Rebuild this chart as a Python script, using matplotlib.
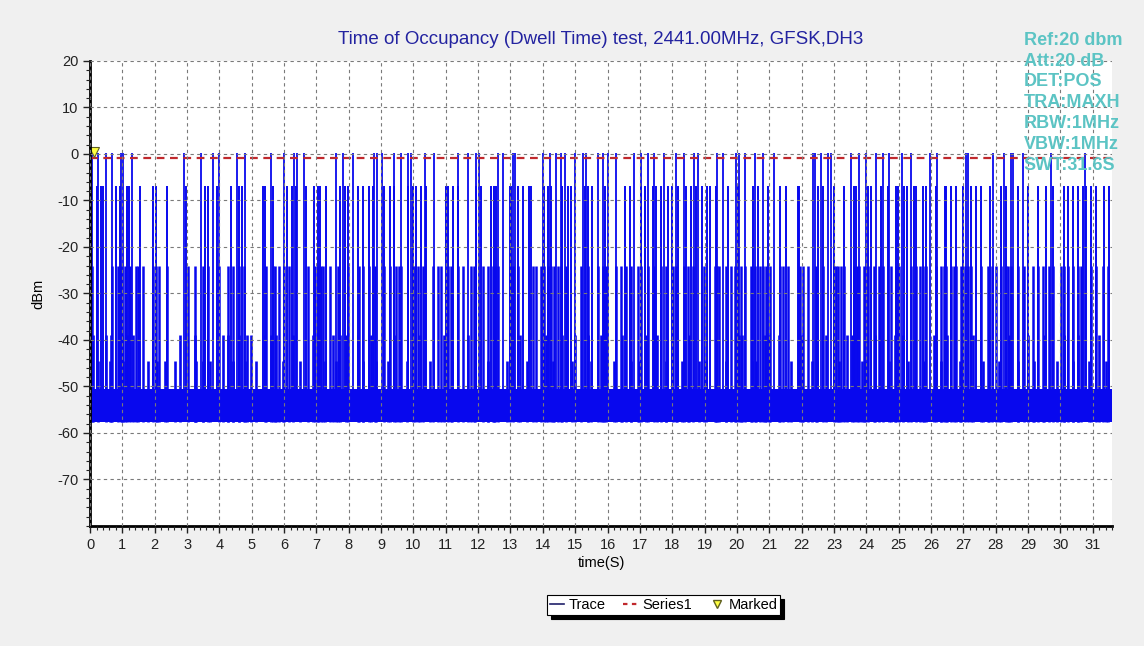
import matplotlib
matplotlib.use("Agg")
import matplotlib.pyplot as plt
from matplotlib.lines import Line2D

plt.rcParams['font.family'] = ['Liberation Sans', 'DejaVu Sans']
plt.rcParams['axes.unicode_minus'] = False

# --- data ---
title = "Time of Occupancy (Dwell Time) test, 2441.00MHz, GFSK,DH3"
info_lines = ["Ref:20 dbm", "Att:20 dB", "DET:POS", "TRA:MAXH",
              "RBW:1MHz", "VBW:1MHz", "SWT:31.6S"]
sweep_time = 31.6
x_ticks = list(range(0, 32))
y_ticks = [20, 10, 0, -10, -20, -30, -40, -50, -60, -70]

# bursts that land on the channel (~0 dBm)
hit_t = [0.06, 0.25, 0.50, 0.68, 0.97, 1.02, 1.31, 2.92, 3.44, 3.80, 3.98, 4.55,
         4.79, 5.58, 5.99, 6.32, 6.41, 6.62, 7.61, 7.82, 8.13, 8.78, 8.88, 9.02,
         9.41, 9.60, 9.83, 9.93, 10.36, 10.63, 11.37, 11.68, 11.93, 12.04, 12.62,
         12.76, 13.08, 13.13, 14.00, 14.21, 14.41, 14.57, 14.67, 14.98, 15.24,
         15.34, 15.70, 15.85, 16.01, 16.27, 16.83, 17.04, 17.24, 17.45, 17.76,
         18.12, 18.37, 18.66, 18.79, 19.39, 19.57, 19.98, 20.08, 20.24, 20.55,
         20.80, 21.16, 22.35, 22.42, 22.60, 22.81, 22.91, 23.53, 23.79, 23.99,
         24.30, 24.51, 24.71, 25.09, 25.38, 25.96, 26.19, 27.09, 27.14, 27.91,
         28.27, 28.48, 28.53, 28.84, 29.72, 30.77]
hit_db = 0.3

# bursts one channel away (~-7 dBm)
adj_t = [0.20, 0.33, 0.40, 0.81, 0.92, 1.15, 1.22, 1.53, 1.94, 2.05, 2.38, 2.97,
         3.54, 3.66, 3.93, 4.36, 4.62, 4.69, 5.34, 5.41, 5.65, 6.08, 6.23, 6.38,
         6.69, 6.94, 7.05, 7.10, 7.30, 7.72, 7.87, 7.97, 8.28, 8.44, 8.64, 8.74,
         9.10, 9.26, 9.41, 9.83, 9.98, 10.08, 10.24, 10.39, 11.01, 11.06, 11.21,
         11.37, 11.93, 12.09, 12.40, 12.50, 12.55, 12.97, 13.02, 13.23, 13.38,
         13.56, 13.64, 14.05, 14.16, 14.26, 14.60, 14.77, 14.88, 15.29, 15.39,
         15.52, 15.91, 16.54, 16.68, 17.04, 17.16, 17.40, 17.50, 17.65, 17.86,
         17.98, 18.17, 18.43, 18.58, 18.73, 18.93, 19.09, 19.18, 19.36, 19.72,
         20.03, 20.49, 20.65, 20.96, 21.32, 21.52, 21.88, 21.93, 22.50, 22.65,
         23.01, 23.32, 23.63, 23.68, 24.04, 24.15, 24.45, 24.66, 24.92, 24.97,
         25.17, 25.26, 25.48, 25.55, 25.75, 25.85, 26.16, 26.42, 26.47, 26.63,
         26.78, 26.99, 27.24, 27.40, 27.55, 27.81, 28.17, 28.32, 28.68, 28.99,
         29.30, 29.56, 29.76, 30.12, 30.23, 30.38, 30.54, 30.69, 30.79, 30.95,
         31.10, 31.36, 31.51]
adj_db = -6.9

# bursts two channels away (~-24 dBm)
far_t = [0.06, 0.68, 0.88, 0.97, 1.07, 1.25, 1.43, 1.48, 1.64, 1.94, 2.05, 2.12,
         2.39, 3.02, 3.25, 3.49, 3.66, 4.00, 4.26, 4.43, 4.62, 4.77, 5.44, 5.65,
         5.72, 5.85, 5.99, 6.16, 6.74, 6.96, 7.05, 7.13, 7.20, 7.41, 7.66, 7.97,
         8.33, 8.44, 8.64, 8.80, 9.10, 9.26, 9.46, 9.54, 9.62, 9.98, 10.05, 10.13,
         10.29, 10.60, 10.75, 10.85, 11.06, 11.16, 11.37, 11.52, 11.78, 11.88,
         12.14, 12.29, 12.45, 12.52, 12.60, 12.97, 13.08, 13.23, 13.71, 13.80,
         13.95, 14.05, 14.16, 14.26, 14.36, 14.46, 14.57, 14.72, 15.19, 15.39,
         15.70, 15.85, 15.96, 16.27, 16.42, 16.57, 16.73, 16.93, 17.04, 17.24,
         17.45, 17.65, 17.81, 18.01, 18.12, 18.37, 18.48, 18.63, 18.99, 19.31,
         19.39, 19.46, 19.67, 19.82, 19.93, 20.13, 20.24, 20.44, 20.55, 20.70,
         20.80, 20.91, 21.01, 21.32, 21.42, 21.57, 21.96, 22.04, 22.19, 22.45,
         22.65, 22.99, 23.07, 23.14, 23.22, 23.32, 23.63, 23.71, 23.79, 23.94,
         24.04, 24.25, 24.40, 24.51, 24.76, 24.92, 25.02, 25.38, 25.54, 25.65,
         25.75, 25.85, 26.16, 26.32, 26.40, 26.47, 26.63, 26.71, 26.78, 26.93,
         27.04, 27.14, 27.24, 27.55, 27.76, 27.88, 28.01, 28.17, 28.32, 28.39,
         28.48, 28.68, 28.89, 29.15, 29.30, 29.46, 29.66, 29.76, 30.02, 30.12,
         30.25, 30.38, 30.54, 30.64, 30.95, 31.10, 31.31, 31.46]
far_db = -24.0

# smaller leakage spikes (~-39 dBm and ~-44 dBm)
leak_t = [0.08, 0.49, 0.65, 0.98, 1.13, 1.34, 2.78, 3.24, 4.11, 4.27, 4.61, 4.84,
          4.99, 5.40, 5.61, 5.76, 6.28, 6.89, 7.05, 7.51, 7.72, 7.92, 8.28, 8.69,
          9.40, 10.20, 10.95, 11.70, 12.50, 13.30, 14.10, 14.60, 15.00, 15.40,
          15.79, 15.90, 16.46, 17.18, 17.54, 18.52, 19.34, 19.96, 20.06, 20.16,
          20.88, 20.99, 21.30, 22.02, 22.74, 23.41, 23.56, 24.28, 24.90,
          25.15, 26.10, 26.50, 27.30, 27.80, 28.40, 29.00, 29.50, 30.10, 30.55,
          31.20]
leak_db = -39.0
leak2_t = [0.26, 0.62, 1.03, 1.80, 2.06, 2.31, 2.62, 3.29, 3.50, 3.70, 4.42, 4.78,
           5.14, 5.97, 6.48, 7.25, 7.61, 8.44, 8.85, 9.20, 9.80, 10.50, 11.20,
           11.90, 12.30, 12.90, 13.50, 14.30, 14.90, 15.50, 16.20, 16.72, 16.98,
           17.80, 18.16, 18.31, 18.83, 19.03, 19.65, 20.47, 20.58, 21.66, 22.33,
           22.48, 23.15, 23.87, 23.97, 24.69, 25.30, 25.80, 26.30, 26.90, 27.60,
           28.10, 28.70, 29.20, 29.90, 30.40, 30.90, 31.40]
leak2_db = -44.5

# noise floor band
floor_lo = -57.7
floor_hi = -50.5
floor_span = [0.0, sweep_time]

series1_db = -0.8
marked_t = [0.12]
marked_db = [0.4]

# --- figure ---
fig = plt.figure(figsize=(11.44, 6.46), dpi=100, facecolor='#f0f0f0')
ax = fig.add_axes([0.0787, 0.1858, 0.8934, 0.7198])
ax.set_facecolor('white')

trace_c = '#0808ee'
ax.fill_between(floor_span, floor_lo, floor_hi, color=trace_c, lw=0)
ax.vlines(leak2_t, floor_lo, leak2_db, color=trace_c, lw=1.9)
ax.vlines(leak_t, floor_lo, leak_db, color=trace_c, lw=1.9)
ax.vlines(far_t, floor_lo, far_db, color=trace_c, lw=1.8)
ax.vlines(adj_t, floor_lo, adj_db, color=trace_c, lw=1.4)
ax.vlines(hit_t, floor_lo, hit_db, color=trace_c, lw=1.3)

ax.axhline(series1_db, color='#c0282c', lw=1.6, ls=(0, (3.5, 2.5)))
ax.plot(marked_t, marked_db, 'v', ms=7, mfc='#ffff40', mec='#606020', mew=0.8,
        clip_on=False)

ax.set_xlim(0, sweep_time)
ax.set_ylim(-80, 20)
ax.set_xticks(x_ticks)
ax.set_yticks(y_ticks)
ax.set_xticks([i / 5 for i in range(0, 159)], minor=True)
ax.set_yticks(list(range(-80, 21, 2)), minor=True)
ax.tick_params(labelsize=10.5, colors='#222222', length=5, width=1)
ax.tick_params(which='minor', length=3, width=0.8, colors='#222222')
ax.grid(True, color='#7a7a7a', ls=(0, (3, 3)), lw=0.8)
ax.set_axisbelow(False)

for s in ['top', 'right']:
    ax.spines[s].set_visible(False)
for s in ['left', 'bottom']:
    ax.spines[s].set_linewidth(2.0)
    ax.spines[s].set_color('black')

ax.set_title(title, color='#2323a0', fontsize=13.5, pad=12)
ax.set_xlabel('time(S)', fontsize=10.5, labelpad=3)
ax.set_ylabel('dBm', fontsize=10.5, labelpad=8)

fig.text(0.895, 0.951, "\n".join(info_lines), color='#5cc4c4', fontsize=13,
         fontweight='bold', va='top', ha='left', linespacing=1.3)

handles = [Line2D([], [], color='#20206a', lw=1.2),
           Line2D([], [], color='#c0282c', lw=1.6, ls=(0, (2, 2))),
           Line2D([], [], ls='none', marker='v', ms=6, mfc='#ffff40',
                  mec='#606020')]
leg = fig.legend(handles, ['Trace', 'Series1', 'Marked'], ncol=3,
                 loc='center', bbox_to_anchor=(0.58, 0.064), fontsize=10.5,
                 frameon=True, fancybox=False, edgecolor='black',
                 shadow={'color': 'black', 'alpha': 1.0, 'ox': 3, 'oy': -3},
                 handlelength=1.0, handletextpad=0.3, columnspacing=1.2,
                 borderpad=0.2, borderaxespad=0)
leg.get_frame().set_linewidth(0.8)

fig.savefig('out.png', dpi=100, facecolor=fig.get_facecolor())
